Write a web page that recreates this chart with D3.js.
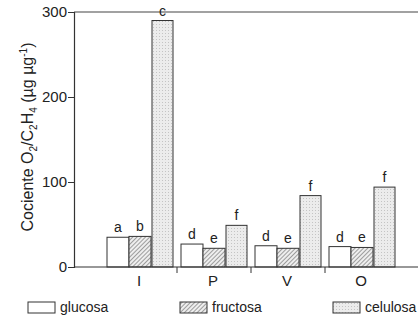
<!DOCTYPE html>
<html>
<head>
<meta charset="utf-8">
<script src="https://cdn.jsdelivr.net/npm/d3@7"></script>
<style>
  body { margin: 0; background: #fff; }
  text { font-family: "Liberation Sans", Arial, sans-serif; fill: #222; }
</style>
</head>
<body>
<svg id="chart" width="418" height="326"></svg>
<script>
// data
const groups = ["I", "P", "V", "O"];
const series = ["glucosa", "fructosa", "celulosa"];
const glucosa = [35, 27, 25, 24];
const fructosa = [36, 22, 22, 23];
const celulosa = [290, 49, 84, 94];
const letters = [["a", "b", "c"], ["d", "e", "f"], ["d", "e", "f"], ["d", "e", "f"]];
const yTicks = [0, 100, 200, 300];

const values = [glucosa, fructosa, celulosa];

const svg = d3.select("#chart");
const axisX = 74, plotTop = 12, plotBottom = 267;

// patterns
const defs = svg.append("defs");
const hatch = defs.append("pattern")
    .attr("id", "hatch")
    .attr("patternUnits", "userSpaceOnUse")
    .attr("width", 3).attr("height", 3)
    .attr("patternTransform", "rotate(45)");
hatch.append("rect").attr("width", 3).attr("height", 3).attr("fill", "#eee");
hatch.append("line").attr("x1", 0).attr("y1", 0).attr("x2", 0).attr("y2", 3)
    .attr("stroke", "#666").attr("stroke-width", 1.2);

const dots = defs.append("pattern")
    .attr("id", "dots")
    .attr("patternUnits", "userSpaceOnUse")
    .attr("width", 3).attr("height", 3);
dots.append("rect").attr("width", 3).attr("height", 3).attr("fill", "#ececec");
dots.append("rect").attr("width", 1).attr("height", 1).attr("fill", "#c4c4c4");

const fills = { glucosa: "#fff", fructosa: "url(#hatch)", celulosa: "url(#dots)" };

// scales
const y = d3.scaleLinear().domain([0, 300]).range([plotBottom, plotTop]);
const x0 = d3.scaleBand().domain(groups).range([103, 399]).padding(0);
const x1 = d3.scaleBand().domain(series).range([4, 70]).padding(0);

// top frame line
svg.append("line")
    .attr("x1", axisX).attr("x2", 418)
    .attr("y1", y(300)).attr("y2", y(300))
    .attr("stroke", "#444").attr("stroke-width", 1.2);

// bars
const g = svg.append("g");
groups.forEach((grp, gi) => {
  series.forEach((s, si) => {
    const v = values[si][gi];
    const bx = x0(grp) + x1(s) + (si === 2 ? 1 : 0);
    const bw = x1.bandwidth() - (si === 2 ? 1 : 0);
    g.append("rect")
        .attr("x", bx).attr("y", y(v))
        .attr("width", bw).attr("height", y(0) - y(v))
        .attr("fill", fills[s])
        .attr("stroke", "#333").attr("stroke-width", 1);
    g.append("text")
        .attr("x", bx + bw / 2).attr("y", y(v) - 5)
        .attr("text-anchor", "middle")
        .style("font-size", "14px")
        .text(letters[gi][si]);
  });
});

// y axis
const yAxis = svg.append("g")
    .attr("transform", `translate(${axisX},0)`)
    .call(d3.axisLeft(y).tickValues(yTicks).tickSize(6).tickPadding(1));
yAxis.select(".domain").attr("stroke", "#333").attr("stroke-width", 1.2);
yAxis.selectAll(".tick line").attr("stroke", "#333");
yAxis.selectAll("text").style("font-size", "15px").attr("fill", "#222");

// x axis: baseline with ticks at group boundaries
svg.append("line")
    .attr("x1", axisX).attr("x2", 418)
    .attr("y1", plotBottom).attr("y2", plotBottom)
    .attr("stroke", "#333").attr("stroke-width", 1.2);
groups.slice(1).forEach(grp => {
  svg.append("line")
      .attr("x1", x0(grp)).attr("x2", x0(grp))
      .attr("y1", plotBottom).attr("y2", plotBottom + 6)
      .attr("stroke", "#333");
});
groups.forEach(grp => {
  svg.append("text")
      .attr("x", x0(grp) + x0.bandwidth() / 2 - 1)
      .attr("y", plotBottom + 19)
      .attr("text-anchor", "middle")
      .style("font-size", "15px")
      .text(grp);
});

// y label
const yl = svg.append("text")
    .attr("transform", "translate(33,137) rotate(-90)")
    .attr("text-anchor", "middle")
    .style("font-size", "16px");
yl.append("tspan").text("Cociente O");
yl.append("tspan").attr("dy", 4).style("font-size", "10px").text("2");
yl.append("tspan").attr("dy", -4).text("/C");
yl.append("tspan").attr("dy", 4).style("font-size", "10px").text("2");
yl.append("tspan").attr("dy", -4).text("H");
yl.append("tspan").attr("dy", 4).style("font-size", "10px").text("4");
yl.append("tspan").attr("dy", -4).text(" (µg µg");
yl.append("tspan").attr("dy", -6).style("font-size", "10px").text("-1");
yl.append("tspan").attr("dy", 6).text(")");

// legend
const legendX = [28, 180, 333];
series.forEach((s, i) => {
  svg.append("rect")
      .attr("x", legendX[i]).attr("y", 302)
      .attr("width", 27).attr("height", 11)
      .attr("fill", fills[s]).attr("stroke", "#333");
  svg.append("text")
      .attr("x", legendX[i] + 32).attr("y", 312)
      .style("font-size", "14px")
      .text(s);
});
</script>
</body>
</html>
